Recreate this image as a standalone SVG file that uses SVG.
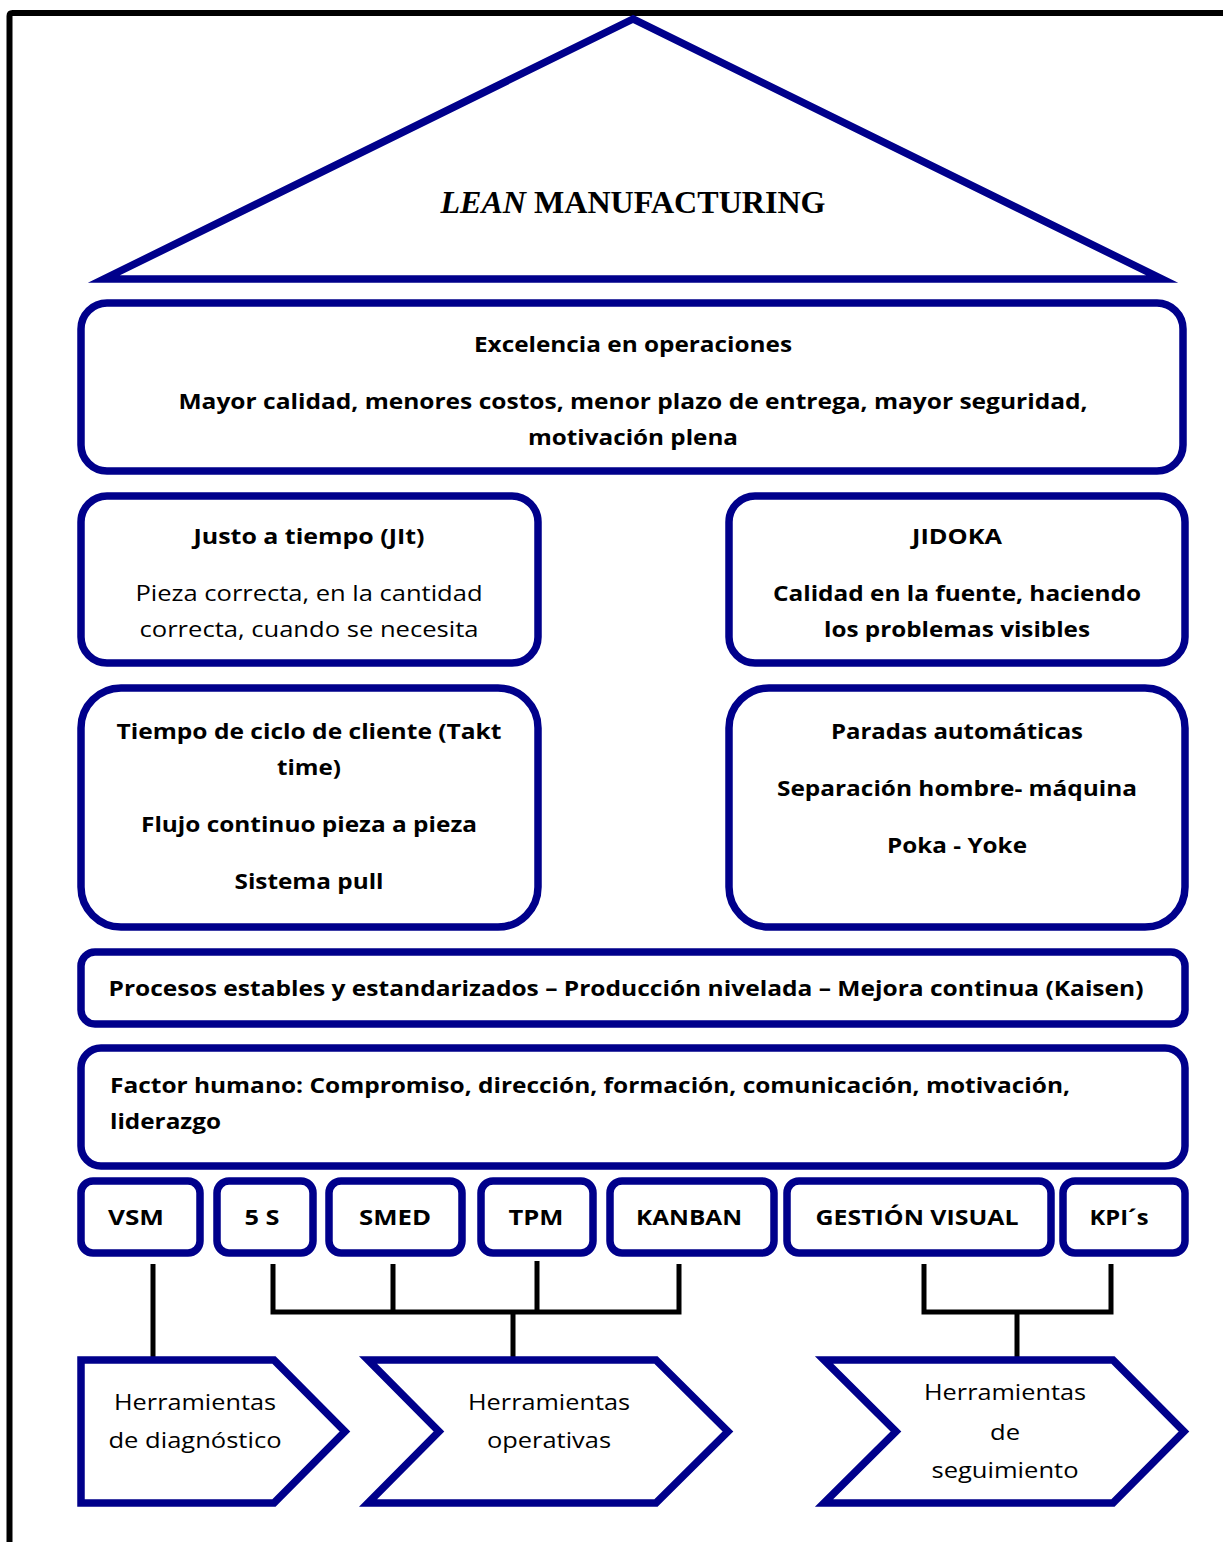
<svg xmlns="http://www.w3.org/2000/svg" width="1223" height="1542" viewBox="0 0 1223 1542">
<style>
.bx{fill:#fff;stroke:#00008B;stroke-width:7.5}
.ch{fill:#fff;stroke:#00008B;stroke-width:7.5;stroke-miterlimit:10}
.cn{fill:none;stroke:#000;stroke-width:5}
.b{font-family:"Open Sans","Liberation Sans",sans-serif;font-weight:bold;font-size:21.5px;fill:#000;text-anchor:middle}
.r{font-family:"Open Sans","Liberation Sans",sans-serif;font-size:21.5px;fill:#000;text-anchor:middle}
.l{text-anchor:start}
</style>
<rect width="1223" height="1542" fill="#fff"/>
<path d="M9.5,1542 V16 Q9.5,13 12.5,13 H1223" fill="none" stroke="#000" stroke-width="6"/>

<g id="roof">
<polygon points="633,19 104,279 1162,279" fill="#fff" stroke="#00008B" stroke-width="7.5" stroke-miterlimit="10"/>
<text x="633" y="213" font-family="'Liberation Serif',serif" font-weight="bold" font-size="32" text-anchor="middle" textLength="385" lengthAdjust="spacingAndGlyphs"><tspan font-style="italic">LEAN</tspan> MANUFACTURING</text>
</g>

<g id="excelencia">
<rect class="bx" x="81" y="303" width="1102" height="168" rx="26"/>
<text class="b" x="633" y="352" textLength="318" lengthAdjust="spacingAndGlyphs">Excelencia en operaciones</text>
<text class="b" x="633" y="409" textLength="909" lengthAdjust="spacingAndGlyphs">Mayor calidad, menores costos, menor plazo de entrega, mayor seguridad,</text>
<text class="b" x="633" y="445" textLength="210" lengthAdjust="spacingAndGlyphs">motivación plena</text>
</g>

<g id="jit">
<rect class="bx" x="81" y="496" width="457" height="167" rx="26"/>
<text class="b" x="309" y="544" textLength="231" lengthAdjust="spacingAndGlyphs">Justo a tiempo (JIt)</text>
<text class="r" x="309" y="601" textLength="347" lengthAdjust="spacingAndGlyphs">Pieza correcta, en la cantidad</text>
<text class="r" x="309" y="637" textLength="339" lengthAdjust="spacingAndGlyphs">correcta, cuando se necesita</text>
</g>

<g id="jidoka">
<rect class="bx" x="729" y="496" width="456" height="167" rx="26"/>
<text class="b" x="957" y="544" textLength="90" lengthAdjust="spacingAndGlyphs">JIDOKA</text>
<text class="b" x="957" y="601" textLength="368" lengthAdjust="spacingAndGlyphs">Calidad en la fuente, haciendo</text>
<text class="b" x="957" y="637" textLength="266" lengthAdjust="spacingAndGlyphs">los problemas visibles</text>
</g>

<g id="takt">
<rect class="bx" x="81" y="688" width="457" height="239" rx="40"/>
<text class="b" x="309" y="739" textLength="385" lengthAdjust="spacingAndGlyphs">Tiempo de ciclo de cliente (Takt</text>
<text class="b" x="309" y="775" textLength="64" lengthAdjust="spacingAndGlyphs">time)</text>
<text class="b" x="309" y="832" textLength="336" lengthAdjust="spacingAndGlyphs">Flujo continuo pieza a pieza</text>
<text class="b" x="309" y="889" textLength="149" lengthAdjust="spacingAndGlyphs">Sistema pull</text>
</g>

<g id="paradas">
<rect class="bx" x="729" y="688" width="456" height="239" rx="40"/>
<text class="b" x="957" y="739" textLength="252" lengthAdjust="spacingAndGlyphs">Paradas automáticas</text>
<text class="b" x="957" y="796" textLength="360" lengthAdjust="spacingAndGlyphs">Separación hombre- máquina</text>
<text class="b" x="957" y="853" textLength="140" lengthAdjust="spacingAndGlyphs">Poka - Yoke</text>
</g>

<g id="procesos">
<rect class="bx" x="81" y="952" width="1104" height="72" rx="14"/>
<text class="b" x="626" y="996" textLength="1035" lengthAdjust="spacingAndGlyphs">Procesos estables y estandarizados – Producción nivelada – Mejora continua (Kaisen)</text>
</g>

<g id="factor">
<rect class="bx" x="81" y="1048" width="1104" height="118" rx="20"/>
<text class="b l" x="110" y="1093" textLength="960" lengthAdjust="spacingAndGlyphs">Factor humano: Compromiso, dirección, formación, comunicación, motivación,</text>
<text class="b l" x="110" y="1129" textLength="111" lengthAdjust="spacingAndGlyphs">liderazgo</text>
</g>

<g id="vsm"><rect class="bx" x="81" y="1181" width="119" height="72" rx="12"/><text class="b" x="136" y="1225" textLength="56" lengthAdjust="spacingAndGlyphs">VSM</text></g>
<g id="s5"><rect class="bx" x="217" y="1181" width="96" height="72" rx="12"/><text class="b" x="262" y="1225" textLength="35" lengthAdjust="spacingAndGlyphs">5 S</text></g>
<g id="smed"><rect class="bx" x="329" y="1181" width="133" height="72" rx="12"/><text class="b" x="395" y="1225" textLength="72" lengthAdjust="spacingAndGlyphs">SMED</text></g>
<g id="tpm"><rect class="bx" x="481" y="1181" width="112" height="72" rx="12"/><text class="b" x="536" y="1225" textLength="55" lengthAdjust="spacingAndGlyphs">TPM</text></g>
<g id="kanban"><rect class="bx" x="610" y="1181" width="164" height="72" rx="12"/><text class="b" x="689" y="1225" textLength="106" lengthAdjust="spacingAndGlyphs">KANBAN</text></g>
<g id="gestion"><rect class="bx" x="787" y="1181" width="264" height="72" rx="12"/><text class="b" x="917" y="1225" textLength="203" lengthAdjust="spacingAndGlyphs">GESTIÓN VISUAL</text></g>
<g id="kpis"><rect class="bx" x="1063" y="1181" width="122" height="72" rx="12"/><text class="b" x="1119" y="1225" textLength="59" lengthAdjust="spacingAndGlyphs">KPI´s</text></g>

<g id="connectors">
<path class="cn" d="M153,1264 V1358"/>
<path class="cn" d="M273,1264 V1312 H679 V1264 M393,1264 V1312 M537,1261 V1312 M513,1312 V1358"/>
<path class="cn" d="M924,1264 V1312 H1111 V1264 M1017,1312 V1358"/>
</g>

<g id="diagnostico">
<polygon class="ch" points="81,1360 274,1360 345,1431.5 274,1503 81,1503"/>
<text class="r" x="195" y="1410" textLength="162" lengthAdjust="spacingAndGlyphs">Herramientas</text>
<text class="r" x="195" y="1448" textLength="173" lengthAdjust="spacingAndGlyphs">de diagnóstico</text>
</g>
<g id="operativas">
<polygon class="ch" points="368,1360 656,1360 728,1431.5 656,1503 368,1503 439,1431.5"/>
<text class="r" x="549" y="1410" textLength="162" lengthAdjust="spacingAndGlyphs">Herramientas</text>
<text class="r" x="549" y="1448" textLength="124" lengthAdjust="spacingAndGlyphs">operativas</text>
</g>
<g id="seguimiento">
<polygon class="ch" points="824,1360 1113,1360 1184,1431.5 1113,1503 824,1503 896,1431.5"/>
<text class="r" x="1005" y="1400" textLength="162" lengthAdjust="spacingAndGlyphs">Herramientas</text>
<text class="r" x="1005" y="1440" textLength="30" lengthAdjust="spacingAndGlyphs">de</text>
<text class="r" x="1005" y="1478" textLength="147" lengthAdjust="spacingAndGlyphs">seguimiento</text>
</g>
</svg>
